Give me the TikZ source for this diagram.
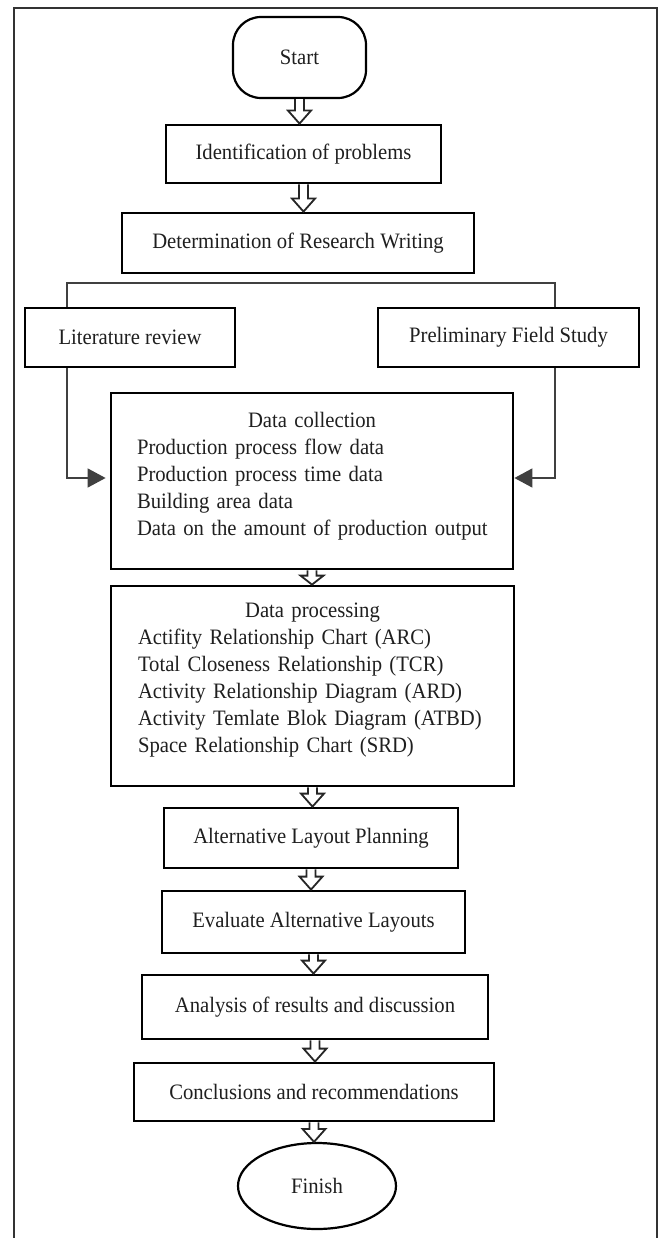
\documentclass[tikz,border=0pt]{standalone}
\usepackage{fontspec}
\setmainfont[FakeStretch=0.94]{Liberation Serif}
\usetikzlibrary{arrows.meta,calc,shapes.geometric}
\newcommand\harrow[3][13]{%
  \draw[harr] let \p1=(#2.south), \p2=(#3.north) in
  (\x1-4.5pt,\y1) -- (\x1-4.5pt,\y2+#1pt) -- (\x1-11.5pt,\y2+#1pt) -- (\x1,\y2)
  -- (\x1+11.5pt,\y2+#1pt) -- (\x1+4.5pt,\y2+#1pt) -- (\x1+4.5pt,\y1);}
\begin{document}
\begin{tikzpicture}[x=1pt,y=-1pt,
  txtf/.style={font=\fontsize{22}{27}\selectfont, text=black!88},
  box/.style={draw, line width=2.8pt, inner sep=0pt, txtf},
  term/.style={draw, line width=2.2pt, inner sep=0pt, txtf},
  block/.style={txtf, inner sep=0pt, align=left},
  harr/.style={draw=black!85, line width=1.8pt, fill=white, line join=miter},
  conn/.style={draw=black!75, line width=1.5pt},
  fillarr/.style={conn, -{Triangle[length=18pt,width=19pt]}},
  frame/.style={draw=black!80, line width=1.3pt}]
\useasboundingbox (0,0) rectangle (663,1238);
\fill[white] (0,0) rectangle (663,1238);
\draw[frame] (14,1238) -- (14,8) -- (657,8) -- (657,1238);

\node[term, rounded corners=28pt, minimum width=133pt, minimum height=81pt] (start) at (299.5,57.5) {Start};
\node[box, minimum width=275pt, minimum height=58pt] (ident) at (303.5,154) {Identification of problems};
\node[box, minimum width=352pt, minimum height=60pt] (det) at (298,243) {Determination of Research Writing};
\node[box, minimum width=210pt, minimum height=59pt] (lit) at (130,337.5) {Literature review};
\node[box, minimum width=261pt, minimum height=59pt] (prelim) at (508.5,337.5) {Preliminary Field Study};
\node[box, minimum width=402pt, minimum height=176pt] (dc) at (312,481) {};
\node[block, text width=350pt] (dctext) at (312,476) {\makebox[350pt]{Data collection}\\
\mbox{Production process flow data}\\
\mbox{Production process time data}\\
\mbox{Building area data}\\
\mbox{Data on the amount of production output}};
\node[box, minimum width=403pt, minimum height=200pt] (dp) at (312.5,686) {};
\node[block, text width=349pt] (dptext) at (312.5,680.5) {\makebox[349pt]{Data processing}\\
\mbox{Actifity Relationship Chart (ARC)}\\
\mbox{Total Closeness Relationship (TCR)}\\
\mbox{Activity Relationship Diagram (ARD)}\\
\mbox{Activity Temlate Blok Diagram (ATBD)}\\
\mbox{Space Relationship Chart (SRD)}};
\node[box, minimum width=294pt, minimum height=60pt] (alt) at (311,838) {Alternative Layout Planning};
\node[box, minimum width=303pt, minimum height=62pt] (eval) at (313.5,922) {Evaluate Alternative Layouts};
\node[box, minimum width=346pt, minimum height=64pt] (an) at (315,1007) {Analysis of results and discussion};
\node[box, minimum width=360pt, minimum height=58pt] (conc) at (314,1092) {Conclusions and recommendations};
\node[term, ellipse, minimum width=158pt, minimum height=86pt] (fin) at (317,1186) {Finish};

\harrow{start}{ident}
\harrow{ident}{det}
\harrow[9]{dc}{dp}
\harrow{dp}{alt}
\harrow{alt}{eval}
\harrow{eval}{an}
\harrow{an}{conc}
\harrow{conc}{fin}

\coordinate (bl) at (67,283);
\coordinate (br) at (555,283);
\draw[conn] (lit.north -| bl) -- (bl) -- (br) -- (prelim.north -| br);
\draw[fillarr, shorten >=4pt] (lit.south -| bl) |- ($(dc.west)+(0,-3)$);
\draw[fillarr] (prelim.south -| br) |- ($(dc.east)+(0,-3)$);
\end{tikzpicture}
\end{document}
